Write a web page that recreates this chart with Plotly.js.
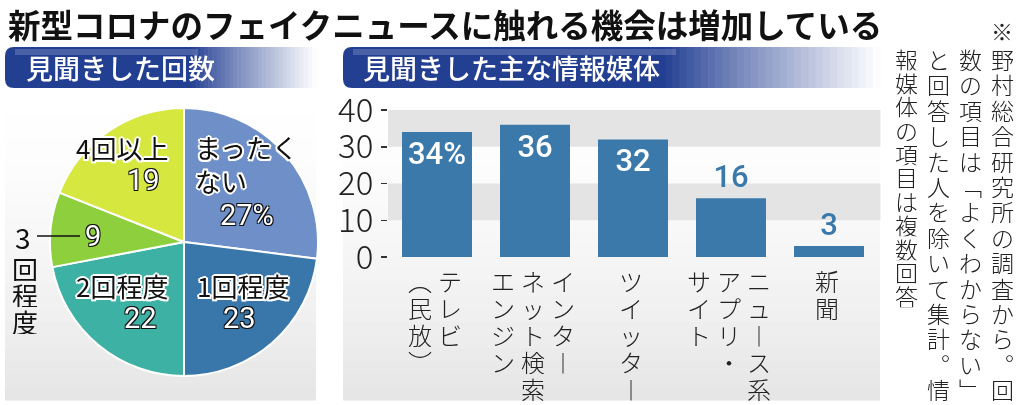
<!DOCTYPE html>
<html>
<head>
<meta charset="utf-8">
<script src="https://cdn.plot.ly/plotly-3.0.1.min.js"></script>
<style>
html,body{margin:0;padding:0;background:#fff}
#chart .main-svg{will-change:transform}
</style>
</head>
<body>
<div id="chart" style="width:1024px;height:405px"></div>
<script>
'use strict';

var W = 1024, H = 405;

// 見聞きした回数 (%)
var countLabels = ['まったくない', '1回程度', '2回程度', '3回程度', '4回以上'];
var countValues = [27, 23, 22, 9, 19];
var countColors = ['#6e8fc8', '#3977aa', '#3db2a4', '#8ecf3e', '#d6e83f'];

// 見聞きした主な情報媒体 (%)
var mediaNames = ['テレビ（民放）', 'インターネット検索エンジン', 'ツイッター', 'ニュース系アプリ・サイト', '新聞'];
var mediaCols = [
  ['テレビ', '（民放）'],
  ['インター', 'ネット検索', 'エンジン'],
  ['ツイッター'],
  ['ニュース系', 'アプリ・', 'サイト'],
  ['新聞']
];
var mediaValues = [34, 36, 32, 16, 3];
var mediaText = ['34%', '36', '32', '16', '3'];
var yTicks = [0, 10, 20, 30, 40];

var titleText = '新型コロナのフェイクニュースに触れる機会は増加している';
var pieTitle = '見聞きした回数';
var barTitle = '見聞きした主な情報媒体';
var noteCols = ['※野村総合研究所の調査から。回', '数の項目は「よくわからない」', 'と回答した人を除いて集計。情', '報媒体の項目は複数回答'];

var JP = 'Noto Sans CJK JP, sans-serif';
var NUM = 'Roboto, Liberation Sans, sans-serif';
var BAR_BLUE = '#3a79aa';

function px(x) { return x / W; }
function py(y) { return 1 - y / H; }

function mix(c1, c2, t) {
  var a = [parseInt(c1.substr(1, 2), 16), parseInt(c1.substr(3, 2), 16), parseInt(c1.substr(5, 2), 16)];
  var b = [parseInt(c2.substr(1, 2), 16), parseInt(c2.substr(3, 2), 16), parseInt(c2.substr(5, 2), 16)];
  var r = a.map(function (v, i) { return Math.round(v + (b[i] - v) * t); });
  return 'rgb(' + r.join(',') + ')';
}

// vertical writing forms
var vmap = { 'ー': '︱', '（': '︵', '）': '︶', '「': '﹁', '」': '﹂', '。': '︒' };
function vch(c) { return vmap[c] || c; }

var shapes = [];
var annotations = [];

// panel backgrounds (soft gray towards the bottom)
function panelBg(x0, x1, y0, y1) {
  var n = 24;
  var h = (y1 - y0) / n;
  for (var i = 0; i < n; i++) {
    var t = Math.pow(i / (n - 1), 1.6);
    shapes.push({ type: 'rect', xref: 'paper', yref: 'paper', layer: 'below',
      x0: px(x0), x1: px(x1), y0: py(y0 + i * h), y1: py(y0 + (i + 1) * h + 0.5),
      fillcolor: mix('#ffffff', '#e6e6e6', t), line: { width: 0 } });
  }
}
panelBg(5, 316, 88, 400);
panelBg(343, 880, 88, 400);

// header bands: navy fading to white
function headerBand(x0, x1, y0, y1) {
  var dark = '#233f92';
  var xf = x0 + (x1 - x0) * 0.6;
  var r = 9;
  var path = 'M' + px(x0 + r) + ',' + py(y0) + ' L' + px(xf + 1) + ',' + py(y0) + ' L' + px(xf + 1) + ',' + py(y1) +
    ' L' + px(x0 + r) + ',' + py(y1) + ' Q' + px(x0) + ',' + py(y1) + ' ' + px(x0) + ',' + py(y1 - r) +
    ' L' + px(x0) + ',' + py(y0 + r) + ' Q' + px(x0) + ',' + py(y0) + ' ' + px(x0 + r) + ',' + py(y0) + ' Z';
  shapes.push({ type: 'path', xref: 'paper', yref: 'paper', layer: 'below', path: path,
    fillcolor: dark, line: { width: 0 } });
  var n = 30;
  var w = (x1 - xf) / n;
  for (var i = 0; i < n; i++) {
    shapes.push({ type: 'rect', xref: 'paper', yref: 'paper', layer: 'below',
      x0: px(xf + i * w), x1: px(xf + (i + 1) * w + 0.6), y0: py(y0), y1: py(y1),
      fillcolor: mix(dark, '#ffffff', Math.pow((i + 0.5) / n, 0.9)), line: { width: 0 } });
  }
  // glossy top
  shapes.push({ type: 'rect', xref: 'paper', yref: 'paper', layer: 'below',
    x0: px(x0 + 10), x1: px(x0 + (x1 - x0) * 0.62), y0: py(y0 + 2), y1: py(y0 + 8),
    fillcolor: 'rgba(255,255,255,0.18)', line: { width: 0 } });
}
headerBand(5, 316, 47, 88);
headerBand(343, 880, 47, 88);

// bar chart bands
[[10, 20], [30, 40]].forEach(function (b) {
  shapes.push({ type: 'rect', xref: 'x domain', yref: 'y', layer: 'below',
    x0: 0, x1: 1.005, y0: b[0], y1: b[1], fillcolor: '#e4e4e4', line: { width: 0 } });
});

// one glyph of vertical text
function vglyph(xref, x, xshift, y, c, font, h) {
  annotations.push({ xref: xref, yref: 'paper', x: x, xshift: xshift, y: y, xanchor: 'center', yanchor: 'middle',
    showarrow: false, text: c, font: font, height: h, borderpad: 0 });
}

// title and headers
annotations.push({ xref: 'paper', yref: 'paper', x: px(7), y: py(23), xanchor: 'left', yanchor: 'middle',
  showarrow: false, text: titleText, font: { family: JP, size: 32.5, weight: 700, color: '#111' }, height: 40, borderpad: 0 });
annotations.push({ xref: 'paper', yref: 'paper', x: px(24), y: py(68), xanchor: 'left', yanchor: 'middle',
  showarrow: false, text: pieTitle, font: { family: JP, size: 27, weight: 500, color: '#fff' } });
annotations.push({ xref: 'paper', yref: 'paper', x: px(361), y: py(68), xanchor: 'left', yanchor: 'middle',
  showarrow: false, text: barTitle, font: { family: JP, size: 27, weight: 500, color: '#fff' } });

// pie labels
var halo = [];
[[2, 0], [-2, 0], [0, 2], [0, -2], [1.5, 1.5], [-1.5, -1.5], [1.5, -1.5], [-1.5, 1.5]].forEach(function (d) {
  halo.push(d[0] + 'px ' + d[1] + 'px 0 #fff');
});
var outline = [];
[[1, 1], [-1, -1], [1, -1], [-1, 1]].forEach(function (d) {
  outline.push(d[0] + 'px ' + d[1] + 'px 0 #111');
});
var labelFont = { family: JP, size: 26, color: '#111', shadow: halo.join(', ') };
var numFont = { family: NUM, size: 29, color: '#fff', shadow: outline.join(', ') };

var pieLabelPos = [[193, 163, 'left'], [243, 285, 'center'], [122, 285, 'center'], null, [122, 147, 'center']];
var pieNumPos = [[247, 215], [239, 318], [140, 318], [93, 236], [143, 180]];

countLabels.forEach(function (lab, i) {
  var num = countValues[i] + (i === 0 ? '%' : '');
  annotations.push({ xref: 'paper', yref: 'paper', x: px(pieNumPos[i][0]), y: py(pieNumPos[i][1]),
    xanchor: 'center', yanchor: 'middle', showarrow: false, text: num, font: numFont });
  var p = pieLabelPos[i];
  if (p) {
    var txt = i === 0 ? 'まったく<br>ない' : lab;
    annotations.push({ xref: 'paper', yref: 'paper', x: px(p[0]), y: py(p[1]), xanchor: p[2], yanchor: 'middle',
      align: 'left', showarrow: false, text: txt, font: labelFont });
  }
});
// 3回程度: leader label outside the pie
var small = countLabels[3];
annotations.push({ xref: 'paper', yref: 'paper', x: px(23), y: py(237), xanchor: 'center', yanchor: 'middle',
  showarrow: false, text: small.charAt(0), font: { family: JP, size: 28, color: '#111' }, height: 28, borderpad: 0 });
small.substr(1).split('').forEach(function (c, k) {
  vglyph('paper', px(25), 0, py(268 + k * 26.5), c, { family: JP, size: 26, color: '#111' }, 25);
});
shapes.push({ type: 'line', xref: 'paper', yref: 'paper', x0: px(37), x1: px(80), y0: py(236), y1: py(236),
  line: { color: '#111', width: 1.5 } });

// vertical category labels under the bars
var catFont = { family: JP, size: 24, weight: 300, color: '#222' };
mediaCols.forEach(function (cols, i) {
  var n = cols.length;
  cols.forEach(function (col, j) {
    var shift = (n - 1) * 15 - j * 30 - 2;
    col.split('').forEach(function (c, k) {
      vglyph('x', mediaNames[i], shift, py(280 + k * 27), vch(c), catFont, 26);
    });
  });
});

// vertical note on the right
var noteX = [1002, 970, 938, 906];
var noteStep = [25.4, 25.4, 25.4, 23.7];
var noteFont = { family: JP, size: 23, weight: 300, color: '#222' };
noteCols.forEach(function (col, j) {
  var chars = col.split('');
  if (chars[0] === '※') {
    vglyph('paper', px(noteX[j]), 0, py(30), '※', { family: JP, size: 22, weight: 300, color: '#222' }, 24);
    chars = chars.slice(1);
  }
  chars.forEach(function (c, k) {
    vglyph('paper', px(noteX[j]), 0, py(59 + k * noteStep[j]), vch(c), noteFont, noteStep[j] - 1.5);
  });
});

var pieTrace = {
  type: 'pie',
  labels: countLabels,
  values: countValues,
  sort: false,
  direction: 'clockwise',
  rotation: 0,
  textinfo: 'none',
  hoverinfo: 'skip',
  marker: { colors: countColors, line: { color: '#fff', width: 2 } },
  domain: { x: [px(50), px(318)], y: [py(376), py(108)] }
};

var barTrace = {
  type: 'bar',
  x: mediaNames,
  y: mediaValues,
  text: mediaText,
  textposition: ['inside', 'inside', 'inside', 'outside', 'outside'],
  insidetextanchor: 'end',
  textangle: 0,
  constraintext: 'none',
  cliponaxis: false,
  insidetextfont: { family: NUM, size: 31, weight: 500, color: '#fff' },
  outsidetextfont: { family: NUM, size: 31, weight: 500, color: BAR_BLUE },
  marker: { color: BAR_BLUE },
  hoverinfo: 'skip'
};

var layout = {
  width: W,
  height: H,
  margin: { l: 0, r: 0, t: 0, b: 0 },
  paper_bgcolor: '#fff',
  plot_bgcolor: 'rgba(0,0,0,0)',
  showlegend: false,
  bargap: 0.286,
  font: { family: JP, color: '#222' },
  xaxis: {
    type: 'category',
    domain: [px(388), px(878)],
    showticklabels: false,
    ticks: '',
    showgrid: false,
    zeroline: false,
    showline: false,
    fixedrange: true
  },
  yaxis: {
    domain: [py(257), py(110)],
    range: [0, 40],
    tickvals: yTicks,
    ticks: 'outside',
    ticklen: 6,
    tickwidth: 1.5,
    tickcolor: '#333',
    ticklabelstandoff: 1,
    tickfont: { family: JP, size: 33, weight: 300, color: '#222' },
    showgrid: false,
    zeroline: false,
    showline: false,
    fixedrange: true
  },
  shapes: shapes,
  annotations: annotations
};

Plotly.newPlot('chart', [barTrace, pieTrace], layout, { staticPlot: true, displayModeBar: false });
</script>
</body>
</html>
